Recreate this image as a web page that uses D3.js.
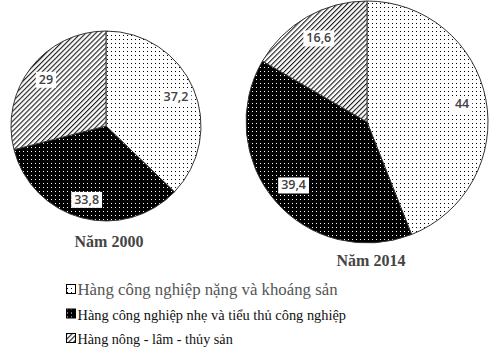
<!DOCTYPE html>
<html>
<head>
<meta charset="utf-8">
<script src="https://cdn.jsdelivr.net/npm/d3@7"></script>
<style>
body { margin: 0; background: #fff; }
svg { display: block; }
</style>
</head>
<body>
<svg id="chart" width="503" height="361"></svg>
<script>
'use strict';
// data
var categories = ['Hàng công nghiệp nặng và khoáng sản', 'Hàng công nghiệp nhẹ và tiểu thủ công nghiệp', 'Hàng nông - lâm - thủy sản'];
var years = ['Năm 2000', 'Năm 2014'];
var values2000 = [37.2, 33.8, 29];
var values2014 = [44, 39.4, 16.6];

var serif = "'Liberation Serif', 'Times New Roman', serif";

var svg = d3.select('#chart');
var defs = svg.append('defs');

// patterns
var p1 = defs.append('pattern').attr('id', 'pDots').attr('patternUnits', 'userSpaceOnUse')
	.attr('width', 4).attr('height', 4);
p1.append('rect').attr('width', 4).attr('height', 4).attr('fill', '#fff');
p1.append('rect').attr('x', 1).attr('y', 1).attr('width', 1).attr('height', 1).attr('fill', '#000');

var p2 = defs.append('pattern').attr('id', 'pBlack').attr('patternUnits', 'userSpaceOnUse')
	.attr('width', 4).attr('height', 4);
p2.append('rect').attr('width', 4).attr('height', 4).attr('fill', '#000');
p2.append('rect').attr('x', 1).attr('y', 1).attr('width', 1).attr('height', 1).attr('fill', '#fff');

var p3 = defs.append('pattern').attr('id', 'pHatch').attr('patternUnits', 'userSpaceOnUse')
	.attr('width', 3.5).attr('height', 3.5).attr('patternTransform', 'rotate(45)');
p3.append('rect').attr('width', 3.5).attr('height', 3.5).attr('fill', '#fff');
p3.append('line').attr('x1', 0.6).attr('y1', 0).attr('x2', 0.6).attr('y2', 3.5)
	.attr('stroke', '#000').attr('stroke-width', 1);

var fills = ['url(#pDots)', 'url(#pBlack)', 'url(#pHatch)'];

var pie = d3.pie().sort(null).value(function(d){ return d; });

var drawPie = function(values, cx, cy, r, title, tx, ty){
	var g = svg.append('g').attr('transform', 'translate(' + cx + ',' + cy + ')');
	var arc = d3.arc().innerRadius(0).outerRadius(r);
	var labelArc = d3.arc().innerRadius(r * 0.8).outerRadius(r * 0.8);
	var arcs = pie(values);

	g.selectAll('path.slice')
		.data(arcs)
		.enter()
		.append('path')
			.attr('class', 'slice')
			.attr('d', arc)
			.attr('fill', function(d, i){ return fills[i]; })
			.attr('stroke', '#333')
			.attr('stroke-width', 1);

	var lab = g.selectAll('g.lab')
		.data(arcs)
		.enter()
		.append('g')
			.attr('class', 'lab')
			.attr('transform', function(d){ return 'translate(' + labelArc.centroid(d) + ')'; });
	lab.append('text')
		.text(function(d){ return String(d.value).replace('.', ','); })
		.attr('text-anchor', 'middle')
		.attr('dy', '0.35em')
		.attr('font-family', "'Open Sans', 'DejaVu Sans', sans-serif")
		.attr('font-size', 12.5)
		.attr('font-weight', 600)
		.attr('fill', '#404040');
	lab.each(function(){
		var el = d3.select(this);
		var bb = el.select('text').node().getBBox();
		el.insert('rect', 'text')
			.attr('x', bb.x - 3).attr('y', bb.y + 1)
			.attr('width', bb.width + 6).attr('height', bb.height - 1)
			.attr('fill', '#fff');
	});

	svg.append('text')
		.text(title)
		.attr('x', tx).attr('y', ty)
		.attr('text-anchor', 'middle')
		.attr('font-family', serif)
		.attr('font-size', 16)
		.attr('font-weight', 'bold')
		.attr('fill', '#444');
};

drawPie(values2000, 106, 126, 95, years[0], 109, 247);
drawPie(values2014, 367, 122, 121, years[1], 371, 266);

// legend
var legendSize = [16.8, 14.4, 14.2];
var legend = svg.append('g').attr('transform', 'translate(66,0)');
var rowY = d3.scalePoint().domain(categories).range([295, 344]);
var item = legend.selectAll('g.item')
	.data(categories)
	.enter()
	.append('g')
		.attr('class', 'item')
		.attr('transform', function(d){ return 'translate(0,' + rowY(d) + ')'; });
item.append('rect')
	.attr('x', 0.5).attr('y', -10.5).attr('width', 9).attr('height', 9)
	.attr('fill', function(d, i){ return fills[i]; })
	.attr('stroke', '#000').attr('stroke-width', 1);
item.append('text')
	.text(function(d){ return d; })
	.attr('x', 11.5).attr('y', 0)
	.attr('font-family', serif)
	.attr('font-size', function(d, i){ return legendSize[i]; })
	.attr('fill', function(d, i){ return i === 0 ? '#555' : '#111'; });
</script>
</body>
</html>
